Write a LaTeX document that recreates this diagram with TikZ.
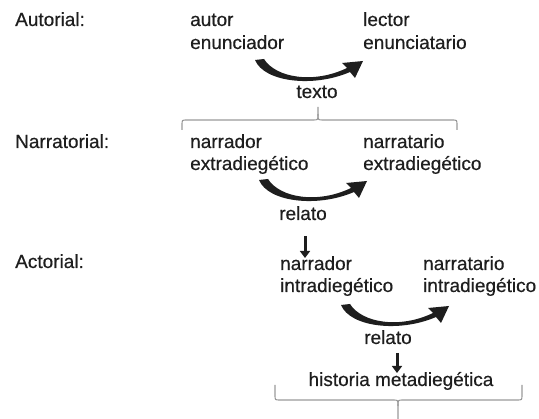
\documentclass[tikz,border=0pt]{standalone}
\usepackage{fontspec}
\setmainfont{Liberation Sans}[FakeBold=0.5]
\usetikzlibrary{arrows.meta}
\definecolor{txt}{HTML}{1E1E1E}
\definecolor{bracegray}{HTML}{9A9A9A}
\begin{document}
\begin{tikzpicture}[x=1pt,y=-1pt,
  lbl/.style={inner sep=0pt, anchor=base west, text=txt, font=\fontsize{19}{23}\selectfont},
  clbl/.style={lbl, anchor=base},
  bracepath/.style={draw=bracegray, line width=1.1pt},
  dnarrow/.style={draw=txt, line width=3pt, -{Triangle[length=7pt,width=10pt]}},
  crescent/.pic={
    \fill[txt] (-3,0) .. controls (6,22) and (55,28) .. (92,12) -- (97,18) -- (105,1)
      -- (84,3) -- (89,8) .. controls (56,24) and (18,18) .. (6,-1) -- cycle;
  }]
\useasboundingbox (0,0) rectangle (539,419);

% level labels
\node[lbl] (autorial) at (15,26) {Autorial:};
\node[lbl] (narratorial) at (15,148) {Narratorial:};
\node[lbl] (actorial) at (15,268) {Actorial:};

% Autorial level
\node[lbl] (autor) at (190,26) {autor};
\node[lbl] (enunciador) at (190,49) {enunciador};
\node[lbl] (lector) at (363,26) {lector};
\node[lbl] (enunciatario) at (363,49) {enunciatario};
\node[clbl] (texto) at (317,98) {texto};
\coordinate (c1) at (258,60);
\pic at (c1) {crescent};

% brace 1
\coordinate (b1tip) at (318,107);
\draw[bracepath] (182,130) -- (182,125) .. controls (182,120) .. (187,120) -- (313,120) .. controls (318,120) .. (318,114) -- (b1tip);
\draw[bracepath] (457,130) -- (457,125) .. controls (457,120) .. (452,120) -- (323,120) .. controls (318,120) .. (318,114);

% Narratorial level
\node[lbl] (narr2) at (190,148) {narrador};
\node[lbl] (extra2) at (190,170) {extradiegético};
\node[lbl] (narrat2) at (363,148) {narratario};
\node[lbl] (extrat2) at (363,170) {extradiegético};
\node[clbl] (relato1) at (303,220) {relato};
\coordinate (c2) at (262,180);
\pic at (c2) {crescent};

\coordinate (d1s) at (305,236);
\coordinate (d1e) at (305,258);
\draw[dnarrow] (d1s) -- (d1e);

% Actorial level
\node[lbl] (narr3) at (280,270) {narrador};
\node[lbl] (intra3) at (280,292) {intradiegético};
\node[lbl] (narrat3) at (423,270) {narratario};
\node[lbl] (intrat3) at (423,292) {intradiegético};
\node[clbl] (relato2) at (388,344) {relato};
\coordinate (c3) at (344,305);
\pic at (c3) {crescent};

\coordinate (d2s) at (397,353);
\coordinate (d2e) at (397,373);
\draw[dnarrow] (d2s) -- (d2e);

\node[clbl] (historia) at (401,386) {historia metadiegética};

% brace 2
\coordinate (b2tip) at (398,419);
\draw[bracepath] (275,385) -- (275,395) .. controls (275,400) .. (280,400) -- (393,400) .. controls (398,400) .. (398,406) -- (b2tip);
\draw[bracepath] (522,385) -- (522,395) .. controls (522,400) .. (517,400) -- (403,400) .. controls (398,400) .. (398,406);
\end{tikzpicture}
\end{document}
